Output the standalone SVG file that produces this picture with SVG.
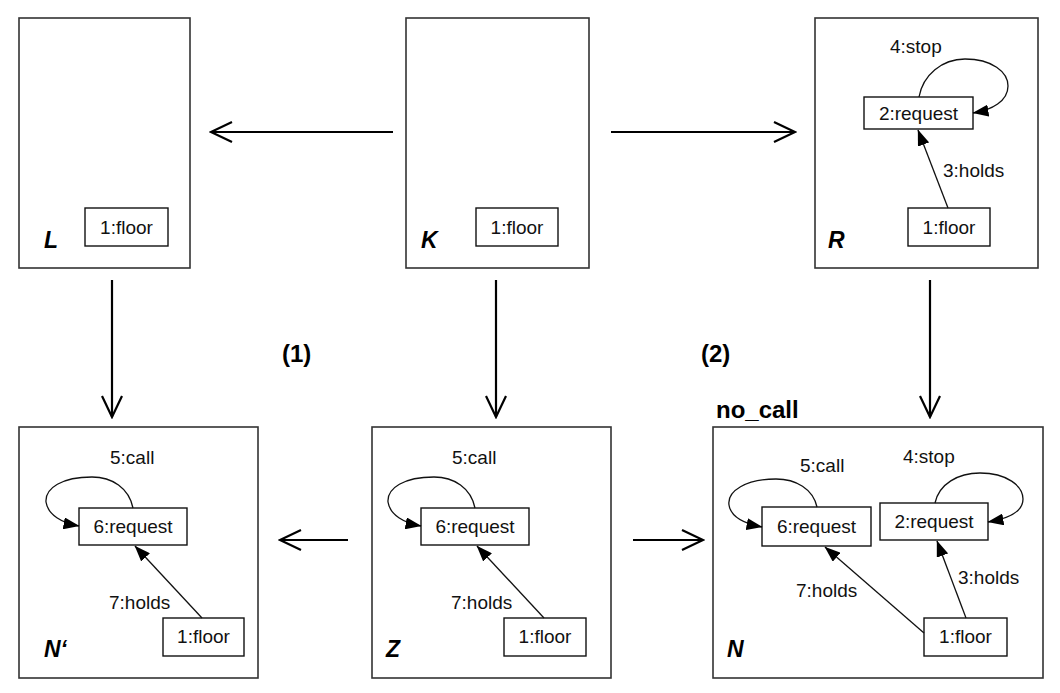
<svg xmlns="http://www.w3.org/2000/svg" width="1060" height="693" viewBox="0 0 1060 693">
<defs>
<style>
.frame{fill:#fff;stroke:#333;stroke-width:1.6}
.node{fill:#fff;stroke:#111;stroke-width:1.4}
.t{font-family:"Liberation Sans",Arial,sans-serif;font-size:19px;fill:#111}
.nm{font-family:"Liberation Sans",Arial,sans-serif;font-size:23px;font-weight:bold;font-style:italic;fill:#000}
.bl{font-family:"Liberation Sans",Arial,sans-serif;font-size:24px;font-weight:bold;fill:#000}
.main{fill:none;stroke:#000;stroke-width:2.2;marker-end:url(#open)}
.edge{fill:none;stroke:#111;stroke-width:1.3;marker-end:url(#tri)}
</style>
<marker id="open" viewBox="0 0 24 24" markerUnits="userSpaceOnUse" markerWidth="24" markerHeight="24" refX="22" refY="12" orient="auto">
<path d="M1,2 L22,12 L1,22" fill="none" stroke="#000" stroke-width="2.2"/>
</marker>
<marker id="tri" viewBox="0 0 16 12" markerUnits="userSpaceOnUse" markerWidth="16" markerHeight="12" refX="15.5" refY="6" orient="auto">
<path d="M0,0 L16,6 L0,12 Z" fill="#000"/>
</marker>
</defs>
<rect width="1060" height="693" fill="#fff"/>

<g id="L">
<rect class="frame" x="19" y="18" width="171" height="250"/>
<text class="nm" x="44" y="248">L</text>
<rect class="node" x="85" y="208" width="83" height="38"/>
<text class="t" x="126.5" y="234" text-anchor="middle">1:floor</text>
</g>

<g id="K">
<rect class="frame" x="406" y="18" width="183" height="250"/>
<text class="nm" x="421" y="248">K</text>
<rect class="node" x="476" y="208" width="82" height="38"/>
<text class="t" x="517" y="234" text-anchor="middle">1:floor</text>
</g>

<g id="R">
<rect class="frame" x="815" y="18" width="223" height="250"/>
<text class="nm" x="828" y="248">R</text>
<rect class="node" x="864" y="97" width="109" height="32"/>
<text class="t" x="918.5" y="120" text-anchor="middle">2:request</text>
<rect class="node" x="908" y="208" width="82" height="38"/>
<text class="t" x="949" y="234" text-anchor="middle">1:floor</text>
<text class="t" x="890" y="53">4:stop</text>
<text class="t" x="943" y="177">3:holds</text>
</g>

<g id="Nprime">
<rect class="frame" x="19" y="427" width="239" height="251"/>
<text class="nm" x="44" y="657">N‘</text>
<rect class="node" x="79" y="508" width="108" height="37"/>
<text class="t" x="133" y="533" text-anchor="middle">6:request</text>
<rect class="node" x="163" y="618" width="81" height="38"/>
<text class="t" x="203.5" y="643" text-anchor="middle">1:floor</text>
<text class="t" x="110" y="464">5:call</text>
<text class="t" x="109" y="609">7:holds</text>
</g>

<g id="Z">
<rect class="frame" x="372" y="427" width="239" height="251"/>
<text class="nm" x="386" y="657">Z</text>
<rect class="node" x="421" y="508" width="108" height="37"/>
<text class="t" x="475" y="533" text-anchor="middle">6:request</text>
<rect class="node" x="504" y="618" width="82" height="38"/>
<text class="t" x="545" y="643" text-anchor="middle">1:floor</text>
<text class="t" x="452" y="464">5:call</text>
<text class="t" x="451" y="609">7:holds</text>
</g>

<g id="N">
<text class="bl" x="716" y="418">no_call</text>
<rect class="frame" x="713" y="427" width="330" height="251"/>
<text class="nm" x="727" y="657">N</text>
<rect class="node" x="762" y="507" width="109" height="39"/>
<text class="t" x="816.5" y="533" text-anchor="middle">6:request</text>
<rect class="node" x="880" y="503" width="108" height="37"/>
<text class="t" x="934" y="528" text-anchor="middle">2:request</text>
<rect class="node" x="924" y="618" width="83" height="38"/>
<text class="t" x="965.5" y="643" text-anchor="middle">1:floor</text>
<text class="t" x="800" y="472">5:call</text>
<text class="t" x="903" y="463">4:stop</text>
<text class="t" x="958" y="584">3:holds</text>
<text class="t" x="796" y="597">7:holds</text>
</g>

<g id="labels">
<text class="bl" x="282" y="362">(1)</text>
<text class="bl" x="701" y="362">(2)</text>
</g>

<g id="connectors">
<line class="main" x1="393" y1="132" x2="211" y2="132"/>
<line class="main" x1="611" y1="132" x2="795" y2="132"/>
<line class="main" x1="112" y1="280" x2="112" y2="417"/>
<line class="main" x1="496" y1="280" x2="496" y2="417"/>
<line class="main" x1="930" y1="280" x2="930" y2="417"/>
<line class="main" x1="348" y1="540" x2="280" y2="540"/>
<line class="main" x1="633" y1="540" x2="703" y2="540"/>

<path class="edge" d="M919,97 C923,75 942,59 965,59 C992,59 1008,72 1008,86 C1008,101 992,110 973,113"/>
<line class="edge" x1="948" y1="208" x2="918" y2="130"/>

<path class="edge" d="M133,508 C129,488 112,477 92,477 C62,477 45,488 46,502 C48,515 62,523 79,526"/>
<line class="edge" x1="202" y1="618" x2="135" y2="546"/>

<path class="edge" d="M475,508 C471,488 454,477 434,477 C404,477 387,488 388,502 C390,515 404,523 421,526"/>
<line class="edge" x1="544" y1="618" x2="477" y2="546"/>

<path class="edge" d="M817,507 C813,489 796,479 776,479 C746,479 727,491 729,505 C731,518 746,524 762,527"/>
<path class="edge" d="M935,503 C939,484 958,473 980,473 C1007,473 1023,486 1023,499 C1023,513 1006,519 988,522"/>
<line class="edge" x1="966" y1="618" x2="937" y2="541"/>
<line class="edge" x1="924" y1="633" x2="825" y2="547"/>
</g>
</svg>
